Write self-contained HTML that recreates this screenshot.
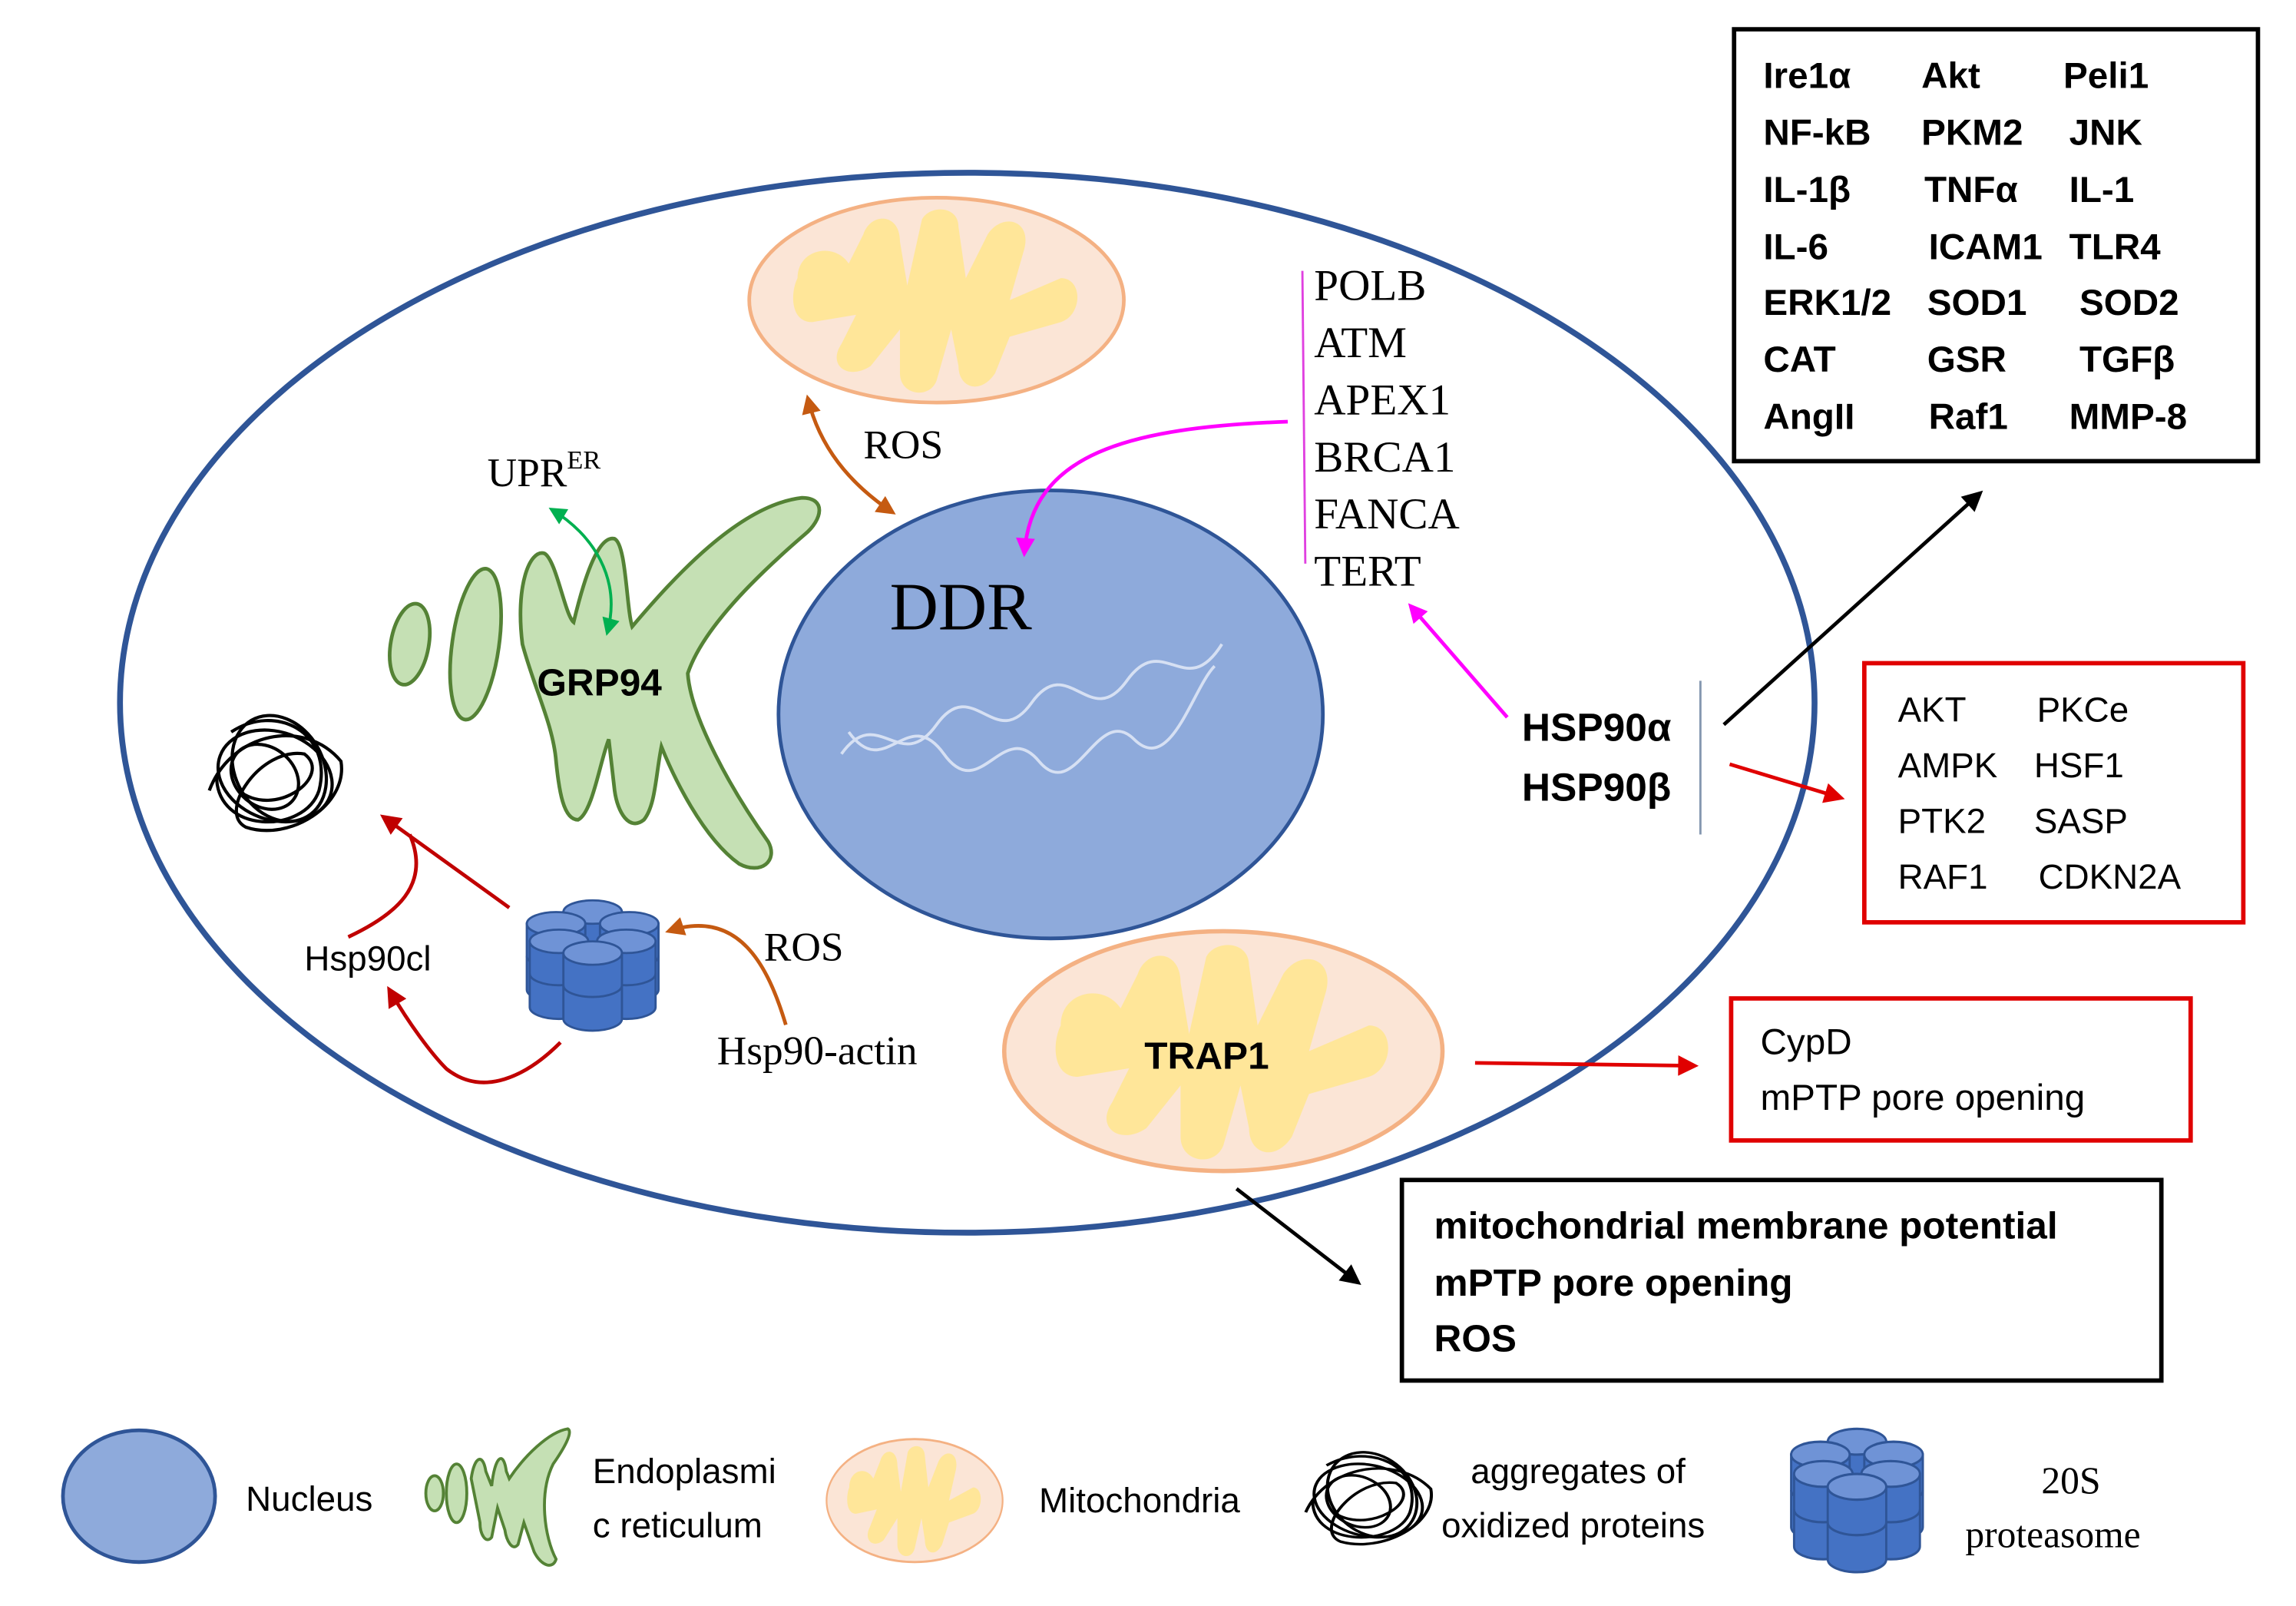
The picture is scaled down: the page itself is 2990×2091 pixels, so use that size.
<!DOCTYPE html>
<html><head><meta charset="utf-8"><style>
html,body{margin:0;padding:0;background:#fff}
svg{display:block}
.s{font-family:"Liberation Sans",sans-serif}
.r{font-family:"Liberation Serif",serif}
</style></head><body>
<svg width="2990" height="2091" viewBox="0 0 1569 1097" preserveAspectRatio="none" xmlns="http://www.w3.org/2000/svg">
<defs>
<marker id="mr" viewBox="0 0 10 10" markerWidth="16" markerHeight="14" refX="8" refY="5" orient="auto-start-reverse" markerUnits="userSpaceOnUse"><path d="M0,0 L10,5 L0,10 Z" fill="#e00000"/></marker>
<marker id="mdr" viewBox="0 0 10 10" markerWidth="16" markerHeight="14" refX="8" refY="5" orient="auto-start-reverse" markerUnits="userSpaceOnUse"><path d="M0,0 L10,5 L0,10 Z" fill="#c00000"/></marker>
<marker id="mb" viewBox="0 0 10 10" markerWidth="16" markerHeight="14" refX="8" refY="5" orient="auto-start-reverse" markerUnits="userSpaceOnUse"><path d="M0,0 L10,5 L0,10 Z" fill="#000"/></marker>
<marker id="mo" viewBox="0 0 10 10" markerWidth="15" markerHeight="13" refX="8" refY="5" orient="auto-start-reverse" markerUnits="userSpaceOnUse"><path d="M0,0 L10,5 L0,10 Z" fill="#c55a11"/></marker>
<marker id="mg" viewBox="0 0 10 10" markerWidth="14" markerHeight="12" refX="8" refY="5" orient="auto-start-reverse" markerUnits="userSpaceOnUse"><path d="M0,0 L10,5 L0,10 Z" fill="#00b050"/></marker>
<marker id="mm" viewBox="0 0 10 10" markerWidth="15" markerHeight="13" refX="8" refY="5" orient="auto-start-reverse" markerUnits="userSpaceOnUse"><path d="M0,0 L10,5 L0,10 Z" fill="#ff00ff"/></marker>
<g id="mito">
<ellipse cx="0" cy="0" rx="128" ry="70" fill="#fbe5d6" stroke="#f4b183" stroke-width="2.5"/>
<path d="M-95,-15 C-95,-35 -70,-40 -60,-25 L-50,-45 C-45,-60 -25,-60 -25,-40 L-20,-10 L-10,-55 C-5,-65 15,-65 15,-50 L20,-15 L35,-45 C45,-60 65,-55 60,-35 L50,0 L85,-15 C100,-15 100,10 85,15 L50,25 L40,50 C30,65 15,60 15,45 L10,20 L0,55 C-5,68 -25,65 -25,50 L-25,20 L-45,45 C-60,55 -75,45 -65,30 L-55,10 L-85,15 C-100,15 -100,-5 -95,-15 Z" fill="#ffe699"/>
</g>
<g id="cyl">
<path d="M-20,0 L-20,45 A20,8 0 0 0 20,45 L20,0 Z" fill="#4472c4" stroke="#2f5597" stroke-width="1.5"/>
<path d="M-20,22 A20,8 0 0 0 20,22" fill="none" stroke="#2f5597" stroke-width="1.5"/>
<ellipse cx="0" cy="0" rx="20" ry="8" fill="#6f93d6" stroke="#2f5597" stroke-width="1.5"/>
</g>
<g id="prot">
<use href="#cyl" x="47" y="8"/>
<use href="#cyl" x="22" y="16"/>
<use href="#cyl" x="72" y="16"/>
<use href="#cyl" x="24" y="28"/>
<use href="#cyl" x="70" y="28"/>
<use href="#cyl" x="47" y="36"/>
</g>
<g id="agg" fill="none" stroke="#000" stroke-width="2.2">
<ellipse cx="0" cy="0" rx="40" ry="30" transform="rotate(20)"/>
<ellipse cx="5" cy="-3" rx="30" ry="38" transform="rotate(-30)"/>
<ellipse cx="-5" cy="5" rx="25" ry="20" transform="rotate(40)"/>
<path d="M-45,10 C-30,-30 20,-40 45,-10 C50,20 10,45 -20,35 C-40,25 -10,-20 20,-15 C40,0 0,30 -25,10"/>
<path d="M-30,-30 C0,-50 40,-30 30,10 C20,40 -40,40 -40,0"/>
</g>
</defs>

<ellipse cx="661" cy="480" rx="579" ry="362" fill="none" stroke="#2f5597" stroke-width="4"/>

<ellipse cx="718" cy="488" rx="186" ry="153" fill="#8eaadb" stroke="#2f5597" stroke-width="2.5"/>
<path d="M575,515 C600,480 615,530 640,495 C665,460 680,515 705,480 C730,445 745,500 770,465 C795,430 810,480 835,440" fill="none" stroke="#d6e0f3" stroke-width="2"/>
<path d="M580,500 C605,535 620,480 645,515 C670,550 685,490 710,520 C735,550 750,480 775,505 C800,530 815,470 830,455" fill="none" stroke="#d6e0f3" stroke-width="2"/>
<text x="608" y="430" class="r" font-size="46">DDR</text>

<use href="#mito" transform="translate(640,205)"/>
<use href="#mito" transform="translate(836,718) scale(1.17,1.17)"/>
<text x="782" y="730" class="s" font-size="26" font-weight="bold">TRAP1</text>

<g fill="#c5e0b4" stroke="#548235" stroke-width="2.5">
<ellipse cx="280" cy="440" rx="13" ry="28" transform="rotate(10 280 440)"/>
<ellipse cx="325" cy="440" rx="16" ry="52" transform="rotate(8 325 440)"/>
<path d="M357,440 C352,400 362,375 372,378 C380,382 386,420 392,425 C398,400 408,365 420,368 C428,372 428,415 432,428 C460,395 505,345 548,340 C565,340 562,355 550,365 C515,395 480,430 470,460 C472,490 500,540 525,575 C532,588 520,598 505,590 C480,572 460,530 452,510 C448,530 448,550 440,560 C430,568 422,555 420,540 L416,505 C410,520 405,555 395,560 C385,560 382,540 380,520 C378,495 365,470 357,440 Z"/>
</g>
<text x="367" y="475" class="s" font-size="26" font-weight="bold">GRP94</text>
<text x="333" y="332" class="r" font-size="28">UPR<tspan font-size="18" dy="-12">ER</tspan></text>
<path d="M377,348 C405,365 425,395 415,432" fill="none" stroke="#00b050" stroke-width="2" marker-start="url(#mg)" marker-end="url(#mg)"/>

<path d="M552,272 C560,305 580,330 610,350" fill="none" stroke="#c55a11" stroke-width="2.5" marker-start="url(#mo)" marker-end="url(#mo)"/>
<text x="590" y="313" class="r" font-size="28">ROS</text>

<line x1="890" y1="185" x2="892" y2="385" stroke="#e040e0" stroke-width="1.5"/>
<g class="r" font-size="30">
<text x="898" y="205">POLB</text>
<text x="898" y="244">ATM</text>
<text x="898" y="283">APEX1</text>
<text x="898" y="322">BRCA1</text>
<text x="898" y="361">FANCA</text>
<text x="898" y="400">TERT</text>
</g>
<path d="M880,288 C770,292 705,310 700,378" fill="none" stroke="#ff00ff" stroke-width="2.5" marker-end="url(#mm)"/>
<line x1="1030" y1="490" x2="964" y2="414" stroke="#ff00ff" stroke-width="2.5" marker-end="url(#mm)"/>

<text x="1040" y="506" class="s" font-size="27" font-weight="bold">HSP90α</text>
<text x="1040" y="547" class="s" font-size="27" font-weight="bold">HSP90β</text>
<line x1="1162" y1="465" x2="1162" y2="570" stroke="#8497b0" stroke-width="1.5"/>
<line x1="1178" y1="495" x2="1353" y2="337" stroke="#000" stroke-width="2.5" marker-end="url(#mb)"/>
<line x1="1182" y1="522" x2="1258" y2="545" stroke="#e00000" stroke-width="2.5" marker-end="url(#mr)"/>

<rect x="1185" y="20" width="358" height="295" fill="#fff" stroke="#000" stroke-width="3"/>
<g class="s" font-size="25" font-weight="bold">
<text x="1205" y="60">Ire1α</text><text x="1313" y="60">Akt</text><text x="1410" y="60">Peli1</text>
<text x="1205" y="99">NF-kB</text><text x="1313" y="99">PKM2</text><text x="1414" y="99">JNK</text>
<text x="1205" y="138">IL-1β</text><text x="1315" y="138">TNFα</text><text x="1414" y="138">IL-1</text>
<text x="1205" y="177">IL-6</text><text x="1318" y="177">ICAM1</text><text x="1414" y="177">TLR4</text>
<text x="1205" y="215">ERK1/2</text><text x="1317" y="215">SOD1</text><text x="1421" y="215">SOD2</text>
<text x="1205" y="254">CAT</text><text x="1317" y="254">GSR</text><text x="1421" y="254">TGFβ</text>
<text x="1205" y="293">AngII</text><text x="1318" y="293">Raf1</text><text x="1414" y="293">MMP-8</text>
</g>

<rect x="1274" y="453" width="259" height="177" fill="#fff" stroke="#e00000" stroke-width="3"/>
<g class="s" font-size="24">
<text x="1297" y="493">AKT</text><text x="1392" y="493">PKCe</text>
<text x="1297" y="531">AMPK</text><text x="1390" y="531">HSF1</text>
<text x="1297" y="569">PTK2</text><text x="1390" y="569">SASP</text>
<text x="1297" y="607">RAF1</text><text x="1393" y="607">CDKN2A</text>
</g>

<line x1="1008" y1="726" x2="1158" y2="728" stroke="#e00000" stroke-width="2.5" marker-end="url(#mr)"/>
<rect x="1183" y="682" width="314" height="97" fill="#fff" stroke="#e00000" stroke-width="3"/>
<text x="1203" y="720" class="s" font-size="25">CypD</text>
<text x="1203" y="758" class="s" font-size="25">mPTP pore opening</text>

<line x1="845" y1="812" x2="928" y2="876" stroke="#000" stroke-width="2.5" marker-end="url(#mb)"/>
<rect x="958" y="806" width="519" height="137" fill="#fff" stroke="#000" stroke-width="3"/>
<g class="s" font-size="26" font-weight="bold">
<text x="980" y="846">mitochondrial membrane potential</text>
<text x="980" y="885">mPTP pore opening</text>
<text x="980" y="923">ROS</text>
</g>

<use href="#agg" transform="translate(188,530)"/>
<use href="#prot" transform="translate(358,615)"/>
<text x="208" y="663" class="s" font-size="24">Hsp90cl</text>
<line x1="348" y1="620" x2="262" y2="558" stroke="#c00000" stroke-width="2.5" marker-end="url(#mdr)"/>
<path d="M238,640 C270,625 295,605 280,570" fill="none" stroke="#c00000" stroke-width="2.5"/>
<path d="M383,712 C360,735 330,750 305,730 C295,720 280,700 266,676" fill="none" stroke="#c00000" stroke-width="2.5" marker-end="url(#mdr)"/>
<path d="M537,700 C525,660 505,620 457,636" fill="none" stroke="#c55a11" stroke-width="2.5" marker-end="url(#mo)"/>
<text x="522" y="656" class="r" font-size="28">ROS</text>
<text x="490" y="727" class="r" font-size="28">Hsp90-actin</text>

<ellipse cx="95" cy="1022" rx="52" ry="45" fill="#8eaadb" stroke="#2f5597" stroke-width="2.5"/>
<text x="168" y="1032" class="s" font-size="24">Nucleus</text>
<g fill="#c5e0b4" stroke="#548235" stroke-width="2">
<ellipse cx="297" cy="1020" rx="6" ry="12"/>
<ellipse cx="312" cy="1020" rx="7" ry="20"/>
<path d="M322,1010 C324,995 330,992 332,1005 L336,1015 C338,995 344,990 346,1005 L348,1010 C358,995 375,978 388,976 C392,978 385,990 378,1000 C368,1020 372,1050 380,1065 C378,1072 370,1070 365,1060 L358,1040 L354,1055 C350,1060 346,1052 345,1045 L340,1030 L336,1050 C332,1055 328,1048 328,1040 Z"/>
</g>
<text x="405" y="1013" class="s" font-size="24">Endoplasmi</text>
<text x="405" y="1050" class="s" font-size="24">c reticulum</text>
<use href="#mito" transform="translate(625,1025) scale(0.47,0.6)"/>
<text x="710" y="1033" class="s" font-size="24">Mitochondria</text>
<use href="#agg" transform="translate(935,1025) scale(0.95,0.8)"/>
<text x="1005" y="1013" class="s" font-size="24">aggregates of</text>
<text x="985" y="1050" class="s" font-size="24">oxidized proteins</text>
<use href="#prot" transform="translate(1222,976) scale(1,1.1)"/>
<text x="1395" y="1020" class="r" font-size="26">20S</text>
<text x="1343" y="1057" class="r" font-size="26">proteasome</text>
</svg>
</body></html>
